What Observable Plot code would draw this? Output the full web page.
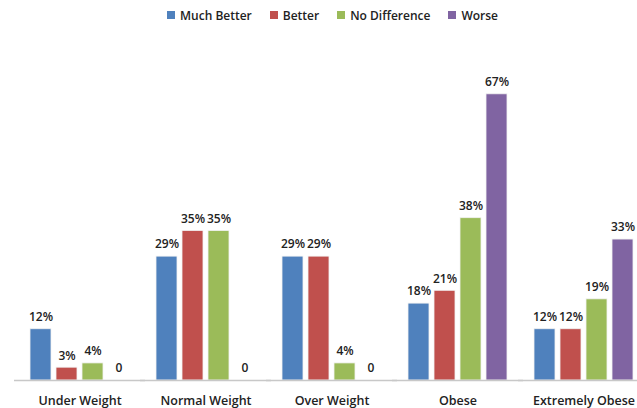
<!DOCTYPE html>
<html>
<head>
<meta charset="utf-8">
<script src="https://cdn.jsdelivr.net/npm/d3@7"></script>
<script src="https://cdn.jsdelivr.net/npm/@observablehq/plot@0.6"></script>
<style>
  html, body { margin: 0; padding: 0; background: #fff; }
  #wrap { width: 637px; height: 408px; overflow: hidden; font-family: "Open Sans", sans-serif; }
  #legend { height: 30px; display: flex; align-items: center; justify-content: center; padding-left: 28px;
            font-size: 12px; font-weight: 600; color: #222; gap: 18px; box-sizing: border-box; }
  #legend .item { display: flex; align-items: center; }
  #legend .sw { width: 8px; height: 8px; margin-right: 5px; }
</style>
</head>
<body>
<div id="wrap">
  <div id="legend"></div>
  <div id="chart"></div>
</div>
<script>
const categories = ["Under Weight", "Normal Weight", "Over Weight", "Obese", "Extremely Obese"];
const seriesNames = ["Much Better", "Better", "No Difference", "Worse"];
const colors = ["#4F81BD", "#C0504D", "#9BBB59", "#8064A2"];
const muchBetter = [12, 29, 29, 18, 12];
const better = [3, 35, 29, 21, 12];
const noDifference = [4, 35, 4, 38, 19];
const worse = [0, 0, 0, 67, 33];

const seriesValues = [muchBetter, better, noDifference, worse];
const data = [];
categories.forEach((c, i) => {
  seriesNames.forEach((s, j) => {
    data.push({category: c, series: s, value: seriesValues[j][i]});
  });
});

const legend = document.getElementById("legend");
seriesNames.forEach((s, j) => {
  const item = document.createElement("div");
  item.className = "item";
  const sw = document.createElement("span");
  sw.className = "sw";
  sw.style.background = colors[j];
  const t = document.createElement("span");
  t.textContent = s;
  item.appendChild(sw);
  item.appendChild(t);
  legend.appendChild(item);
});

const chart = Plot.plot({
  width: 637,
  height: 378,
  marginLeft: 28,
  marginRight: 3,
  marginTop: 51,
  marginBottom: 28,
  style: {fontFamily: "Open Sans, sans-serif", background: "#fff"},
  fx: {domain: categories, paddingInner: 0.2, paddingOuter: 0, label: null},
  x: {domain: seriesNames, paddingInner: 0.2, paddingOuter: 0, axis: null},
  y: {domain: [0, 70], axis: null},
  color: {domain: seriesNames, range: colors},
  marks: [
    Plot.barY(data, {fx: "category", x: "series", y: "value", fill: "series", stroke: "#f2f2f2", strokeWidth: 0.8}),
    Plot.ruleY([0], {stroke: "#c8c8c8", strokeWidth: 1.5, insetLeft: -15, insetRight: -15}),
    Plot.text(data, {fx: "category", x: "series", y: "value",
      text: d => d.value === 0 ? "0" : d.value + "%",
      dy: -12, fontSize: 12, fontWeight: 600, fill: "#222"}),
    Plot.axisFx({anchor: "bottom", tickSize: 0, tickPadding: 16, fontSize: 12.5, fontWeight: 600, color: "#222", label: null})
  ]
});
document.getElementById("chart").appendChild(chart);
</script>
</body>
</html>
